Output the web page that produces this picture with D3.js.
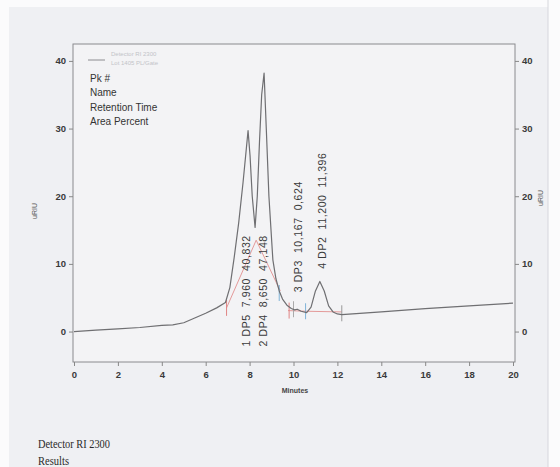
<html>
<head>
<script src="https://d3js.org/d3.v7.min.js"></script>
<style>
  body { margin: 0; background: #fbfbfc; }
</style>
</head>
<body>
<div id="chart"></div>
<script>
// chromatogram trace (minutes, uRIU)
const times = [0, 1, 2, 3, 4, 4.5, 5, 5.5, 6, 6.5, 6.9, 7.1, 7.3, 7.5, 7.7, 7.85, 7.93, 8.02, 8.12, 8.25,
  8.35, 8.45, 8.55, 8.66, 8.76, 8.88, 9.06, 9.2, 9.35, 9.5, 9.7, 9.9, 10.05, 10.17, 10.35, 10.6, 10.8, 11.0,
  11.2, 11.4, 11.6, 11.8, 12.0, 12.2, 14, 16, 18, 20];
const signal = [0.0, 0.2, 0.4, 0.6, 0.9, 1.0, 1.3, 2.0, 2.7, 3.5, 4.3, 6.5, 11, 16, 22, 27, 29.7, 26, 20, 15.4,
  20, 28, 35, 38.2, 30, 20, 10.6, 7.8, 6.0, 4.8, 3.9, 3.4, 3.2, 3.3, 3.0, 2.8, 3.6, 6.0,
  7.4, 6.0, 3.8, 2.9, 2.6, 2.5, 2.9, 3.4, 3.8, 4.2];

// peak table
const peakNums = [1, 2, 3, 4];
const peakNames = ["DP5", "DP4", "DP3", "DP2"];
const retTimes = ["7,960", "8,650", "10,167", "11,200"];
const areaPct = ["40,832", "47,148", "0,624", "11,396"];
const labelX = [7.84, 8.62, 10.2, 11.3];
const labelFrom = [-2.2, -2.2, 5.8, 9.3];

// integration baseline + markers
const baseT = [6.95, 8.3, 9.4];
const baseV = [3.5, 13.5, 6.0];
const base2T = [9.75, 10.6, 12.2];
const base2V = [3.1, 3.0, 2.9];
const markT = [6.95, 9.35, 9.8, 10.0, 10.55, 12.2];
const markV = [3.5, 5.7, 3.1, 3.3, 3.0, 2.7];
const markC = ["#e08585", "#7fb3d8", "#e08585", "#aaa", "#7fb3d8", "#999"];

const xTicks = [0, 2, 4, 6, 8, 10, 12, 14, 16, 18, 20];
const yTicks = [0, 10, 20, 30, 40];
const legendLines = ["Pk #", "Name", "Retention Time", "Area Percent"];

const W = 560, H = 467;
const sans = "'Liberation Sans Narrow', 'Liberation Sans', Arial, sans-serif";
const serif = "'Liberation Serif', 'Times New Roman', serif";
const svg = d3.select("#chart").append("svg").attr("width", W).attr("height", H)
  .style("font-family", sans);

// scanned page
svg.append("rect").attr("x", 9).attr("y", 7).attr("width", 539).attr("height", H - 7).attr("fill", "#eff0f3");
svg.append("line").attr("x1", 548).attr("x2", 548).attr("y1", 0).attr("y2", H)
  .attr("stroke", "#d6d7dc").attr("stroke-width", 1);

const pLeft = 73, pRight = 515, pTop = 44, pBottom = 362;
const x = d3.scaleLinear().domain([0, 20]).range([pLeft + 1, pRight - 2]);
const y = d3.scaleLinear().domain([-4.5, 42.5]).range([pBottom, pTop]);

svg.append("rect").attr("x", pLeft).attr("y", pTop).attr("width", pRight - pLeft).attr("height", pBottom - pTop)
  .attr("fill", "#f3f3f5").attr("stroke", "#8a8a8e").attr("stroke-width", 1);

const axisStyle = g => {
  g.select(".domain").remove();
  g.selectAll("line").attr("stroke", "#888");
  g.selectAll("text").style("font-family", sans).attr("font-size", 9.5)
    .attr("font-weight", "bold").attr("fill", "#3a3a3a");
};

svg.append("g").attr("transform", `translate(0,${pBottom})`)
  .call(d3.axisBottom(x).tickValues(xTicks).tickSize(4).tickPadding(5).tickFormat(d3.format("d")))
  .call(axisStyle);
svg.append("g").attr("transform", `translate(${pLeft},0)`)
  .call(d3.axisLeft(y).tickValues(yTicks).tickSize(4).tickPadding(3))
  .call(axisStyle);
svg.append("g").attr("transform", `translate(${pRight},0)`)
  .call(d3.axisRight(y).tickValues(yTicks).tickSize(4).tickPadding(3))
  .call(axisStyle);

svg.append("text").attr("x", (pLeft + pRight) / 2 + 1).attr("y", 393).attr("text-anchor", "middle")
  .attr("font-size", 7).attr("font-weight", "bold").attr("fill", "#444").text("Minutes");
svg.append("text").attr("transform", "translate(37,211) rotate(-90)").attr("text-anchor", "middle")
  .attr("font-size", 7).attr("fill", "#555").text("uRIU");
svg.append("text").attr("transform", "translate(543,198) rotate(-90)").attr("text-anchor", "middle")
  .attr("font-size", 7).attr("fill", "#555").text("uRIU");

// integration lines
const line = d3.line().x(d => x(d[0])).y(d => y(d[1]));
svg.append("path").datum(d3.zip(baseT, baseV)).attr("d", line)
  .attr("fill", "none").attr("stroke", "#e49a9a").attr("stroke-width", 1);
svg.append("path").datum(d3.zip(base2T, base2V)).attr("d", line)
  .attr("fill", "none").attr("stroke", "#e49a9a").attr("stroke-width", 1);
svg.selectAll(".mark").data(d3.zip(markT, markV, markC)).join("line")
  .attr("x1", d => x(d[0])).attr("x2", d => x(d[0]))
  .attr("y1", d => y(d[1]) - 8).attr("y2", d => y(d[1]) + 8)
  .attr("stroke", d => d[2]).attr("stroke-width", 1);

// trace
svg.append("path").datum(d3.zip(times, signal)).attr("d", line)
  .attr("fill", "none").attr("stroke", "#6f6f72").attr("stroke-width", 1.2).attr("stroke-linejoin", "round");

// peak labels
svg.selectAll(".pk").data(peakNums).join("text")
  .attr("transform", (d, i) => `translate(${x(labelX[i])},${y(labelFrom[i])}) rotate(-90)`)
  .attr("dy", "0.35em").attr("font-size", 10.5).attr("fill", "#3a3a3a")
  .style("font-family", "'Liberation Sans', Arial, sans-serif")
  .style("letter-spacing", "0.6px")
  .style("white-space", "pre")
  .text((d, i) => `${d} ${peakNames[i]}  ${retTimes[i]}  ${areaPct[i]}`);

// legend
svg.append("line").attr("x1", 88).attr("x2", 105).attr("y1", 60).attr("y2", 60)
  .attr("stroke", "#8c8c90").attr("stroke-width", 1);
svg.append("text").attr("x", 111).attr("y", 56).attr("font-size", 6).attr("fill", "#c2c3c8").text("Detector RI 2300");
svg.append("text").attr("x", 111).attr("y", 65).attr("font-size", 6).attr("fill", "#c2c3c8").text("Lot 1405 PL/Gate");
svg.selectAll(".leg").data(legendLines).join("text")
  .attr("x", 90).attr("y", (d, i) => 82 + i * 14.3)
  .attr("font-size", 10).attr("fill", "#333").text(d => d);

// page text below chart
svg.append("text").attr("x", 38).attr("y", 448).attr("font-size", 13.5)
  .style("font-family", serif).attr("fill", "#2a2a2a")
  .attr("textLength", 72).attr("lengthAdjust", "spacingAndGlyphs").text("Detector RI 2300");
svg.append("text").attr("x", 38).attr("y", 465).attr("font-size", 13.5)
  .style("font-family", serif).attr("fill", "#2a2a2a")
  .attr("textLength", 31).attr("lengthAdjust", "spacingAndGlyphs").text("Results");
</script>
</body>
</html>
